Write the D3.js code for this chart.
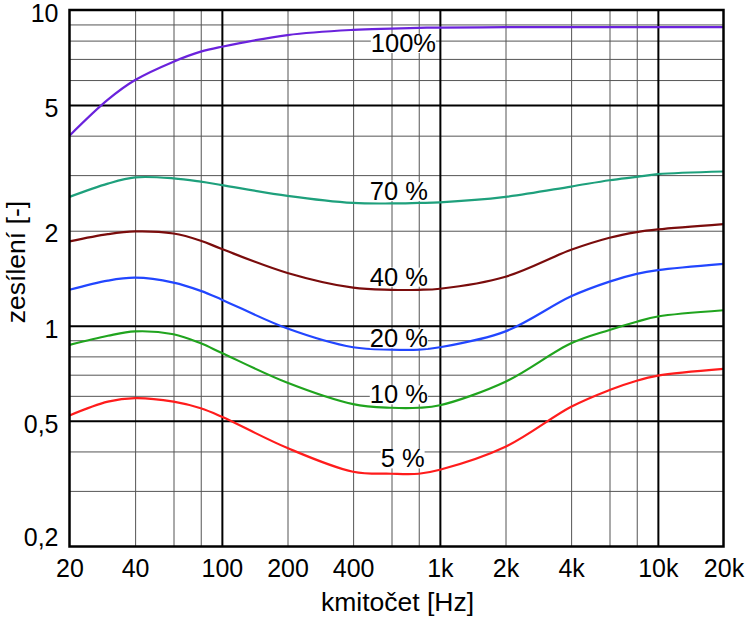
<!DOCTYPE html>
<html>
<head>
<meta charset="utf-8">
<script src="https://cdn.jsdelivr.net/npm/d3@7"></script>
<style>
  body { margin: 0; background: #fff; }
  svg { display: block; font-family: "Liberation Sans", Arial, sans-serif; }
</style>
</head>
<body>
<div id="chart"></div>
<script>
// frequencies [Hz] where the curves were read
const freqs = [20, 30, 40, 60, 80, 100, 200, 400, 600, 800, 1000, 2000, 4000, 6000, 8000, 10000, 20000];

// gain [-] for each volume setting
const gain100 = [4.0, 5.2, 6.0, 6.86, 7.38, 7.65, 8.33, 8.65, 8.73, 8.78, 8.8, 8.82, 8.82, 8.82, 8.82, 8.82, 8.82];
const gain70 = [2.56, 2.82, 2.95, 2.93, 2.86, 2.79, 2.58, 2.45, 2.44, 2.45, 2.46, 2.56, 2.76, 2.89, 2.96, 3.02, 3.08];
const gain40 = [1.85, 1.95, 1.99, 1.96, 1.86, 1.75, 1.47, 1.32, 1.3, 1.3, 1.31, 1.43, 1.74, 1.9, 1.98, 2.02, 2.1];
const gain20 = [1.3, 1.39, 1.42, 1.37, 1.29, 1.21, 0.98, 0.855, 0.84, 0.84, 0.855, 0.96, 1.24, 1.38, 1.46, 1.5, 1.57];
const gain10 = [0.87, 0.93, 0.96, 0.94, 0.88, 0.82, 0.66, 0.565, 0.55, 0.55, 0.56, 0.665, 0.88, 0.97, 1.03, 1.07, 1.12];
const gain5 = [0.52, 0.575, 0.59, 0.575, 0.548, 0.515, 0.41, 0.345, 0.34, 0.34, 0.35, 0.414, 0.554, 0.626, 0.67, 0.695, 0.73];

const seriesNames = ["100%", "70 %", "40 %", "20 %", "10 %", "5 %"];
const seriesColors = ["#6a22dc", "#1ea07c", "#7a0c0c", "#2246ff", "#20a41e", "#ff1c1c"];

// curve label anchors (start of text, baseline) in data units
const labelFreq = [482, 477, 477, 477, 477, 535];
const labelGain = [7.36, 2.5, 1.34, 0.855, 0.568, 0.356];

// axes
const xTicks = [20, 40, 100, 200, 400, 1000, 2000, 4000, 10000, 20000];
const xTickLabels = ["20", "40", "100", "200", "400", "1k", "2k", "4k", "10k", "20k"];
const yTicks = [0.2, 0.5, 1, 2, 5, 10];
const yTickLabels = ["0,2", "0,5", "1", "2", "5", "10"];

const xGridMinor = [40, 60, 80, 200, 400, 600, 800, 2000, 4000, 6000, 8000];
const xGridMajor = [100, 1000, 10000];
const yGridMinor = [0.3, 0.4, 0.6, 0.7, 0.8, 0.9, 2, 3, 4, 6, 7, 8, 9];
const yGridMajor = [0.5, 1, 5];

const xTitle = "kmitočet [Hz]";
const yTitle = "zesílení [-]";

const chartWidth = 749;
const chartHeight = 617;
const margin = { top: 10, right: 25.5, bottom: 70.5, left: 69.5 };
const width = chartWidth - margin.left - margin.right;
const height = chartHeight - margin.top - margin.bottom;

const svg = d3
  .select("#chart")
  .append("svg")
  .attr("width", chartWidth)
  .attr("height", chartHeight)
  .append("g")
  .attr("transform", `translate(${margin.left}, ${margin.top})`);

const x = d3.scaleLog().domain([20, 20000]).range([0, width]);
const y = d3.scaleLog().domain([0.2, 10]).range([height, 0]);

// gridlines
const grid = (values, bold) => {
  svg
    .append("g")
    .attr("transform", `translate(0, ${height})`)
    .call(d3.axisBottom(x).tickValues(values).tickSize(-height).tickFormat(""))
    .call((g) => g.select(".domain").remove())
    .selectAll("line")
    .attr("stroke", bold ? "#000" : "#555")
    .attr("stroke-width", bold ? 2 : 1);
};
const gridY = (values, bold) => {
  svg
    .append("g")
    .call(d3.axisLeft(y).tickValues(values).tickSize(-width).tickFormat(""))
    .call((g) => g.select(".domain").remove())
    .selectAll("line")
    .attr("stroke", bold ? "#000" : "#555")
    .attr("stroke-width", bold ? 2 : 1);
};
grid(xGridMinor, false);
gridY(yGridMinor, false);
grid(xGridMajor, true);
gridY(yGridMajor, true);

// curves
const allGains = [gain100, gain70, gain40, gain20, gain10, gain5];
const line = d3
  .line()
  .x((d) => x(d[0]))
  .y((d) => y(d[1]))
  .curve(d3.curveCatmullRom.alpha(0.5));

allGains.forEach((g, i) => {
  svg
    .append("path")
    .datum(freqs.map((f, j) => [f, g[j]]))
    .attr("d", line)
    .attr("fill", "none")
    .attr("stroke", seriesColors[i])
    .attr("stroke-width", 2.2);
});

// frame
svg
  .append("rect")
  .attr("width", width)
  .attr("height", height)
  .attr("fill", "none")
  .attr("stroke", "#000")
  .attr("stroke-width", 2.5);

// curve labels with white background
seriesNames.forEach((name, i) => {
  const lab = svg.append("g");
  const t = lab
    .append("text")
    .attr("x", x(labelFreq[i]))
    .attr("y", y(labelGain[i]))
    .style("font-size", "25.5px")
    .style("fill", "#000")
    .text(name);
  const b = t.node().getBBox();
  lab
    .insert("rect", "text")
    .attr("x", b.x)
    .attr("y", b.y + 5)
    .attr("width", b.width)
    .attr("height", b.height - 9)
    .attr("fill", "#fff");
});

// x axis labels
svg
  .append("g")
  .attr("transform", `translate(0, ${height})`)
  .call(
    d3
      .axisBottom(x)
      .tickValues(xTicks)
      .tickSize(0)
      .tickPadding(13)
      .tickFormat((d, i) => xTickLabels[i])
  )
  .call((g) => g.select(".domain").remove())
  .selectAll("text")
  .style("font-size", "25px")
  .style("font-family", "Liberation Sans, Arial, sans-serif")
  .style("fill", "#000");

// y axis labels
svg
  .append("g")
  .call(
    d3
      .axisLeft(y)
      .tickValues(yTicks)
      .tickSize(0)
      .tickPadding(11)
      .tickFormat((d, i) => yTickLabels[i])
  )
  .call((g) => g.select(".domain").remove())
  .selectAll("text")
  .attr("dy", (d) => (d === 0.2 ? "-0.05em" : "0.45em"))
  .style("font-size", "25px")
  .style("font-family", "Liberation Sans, Arial, sans-serif")
  .style("fill", "#000");

// axis titles
svg
  .append("text")
  .attr("x", width / 2 + 1)
  .attr("y", height + 64)
  .style("text-anchor", "middle")
  .style("font-size", "26.5px")
  .style("fill", "#000")
  .text(xTitle);

svg
  .append("text")
  .attr("transform", "rotate(-90)")
  .attr("x", -(262 - margin.top))
  .attr("y", -margin.left + 25)
  .style("text-anchor", "middle")
  .style("font-size", "26.5px")
  .style("fill", "#000")
  .text(yTitle);
</script>
</body>
</html>
